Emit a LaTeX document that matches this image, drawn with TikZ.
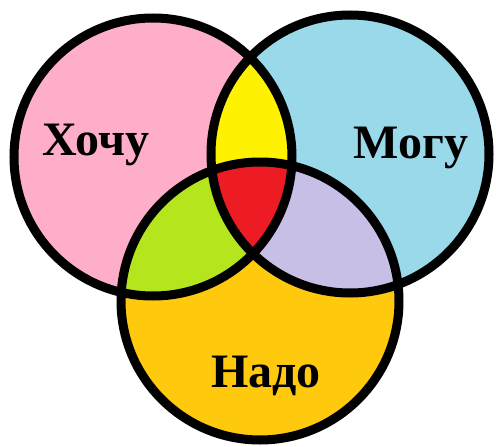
\documentclass[tikz,border=0pt]{standalone}
\usepackage{fontspec}
\setmainfont{Liberation Serif}
\definecolor{cpink}{HTML}{FFAEC9}
\definecolor{cblue}{HTML}{99D9EA}
\definecolor{cgold}{HTML}{FFC90E}
\definecolor{cyellow}{HTML}{FFF200}
\definecolor{cred}{HTML}{ED1C24}
\definecolor{clime}{HTML}{B5E61D}
\definecolor{clav}{HTML}{C8BFE7}
\begin{document}
\begin{tikzpicture}[x=1pt,y=-1pt,
  ring/.style={draw=black,line width=9pt},
  label/.style={font=\bfseries\fontsize{48}{48}\selectfont,text=black,anchor=base,inner sep=0pt}]
\useasboundingbox (0,0) rectangle (496,447);
\def\R{139}
\coordinate (A) at (153,157);
\coordinate (B) at (350,154);
\coordinate (C) at (260,301);
% base fills
\fill[cpink] (A) circle (\R);
\fill[cblue] (B) circle (\R);
\fill[cgold] (C) circle (\R);
% pairwise intersections
\begin{scope}\clip (A) circle (\R); \fill[cyellow] (B) circle (\R); \end{scope}
\begin{scope}\clip (A) circle (\R); \fill[clime] (C) circle (\R); \end{scope}
\begin{scope}\clip (B) circle (\R); \fill[clav] (C) circle (\R); \end{scope}
\begin{scope}\clip (A) circle (\R); \clip (B) circle (\R); \fill[cred] (C) circle (\R); \end{scope}
% outlines
\draw[ring] (A) circle (\R);
\draw[ring] (B) circle (\R);
\draw[ring] (C) circle (\R);
% labels
\node[label] (want) at (96,155) {Хочу};
\node[label] (can) at (411,158) {Могу};
\node[label] (need) at (266,387) {Надо};
\end{tikzpicture}
\end{document}
